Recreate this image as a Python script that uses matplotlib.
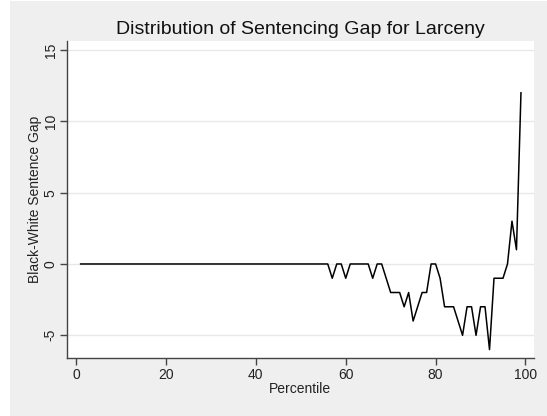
import numpy as np
import matplotlib.pyplot as plt
from matplotlib.patches import Rectangle

plt.rcParams['font.family'] = ['Liberation Sans', 'DejaVu Sans']

# percentiles 1..99 and the black-white gap at each
percentile = np.arange(1, 100)
gap = [0] * 56 + [
    -1, 0, 0, -1, 0, 0, 0, 0, 0, -1,      # 57-66
    0, 0, -1, -2, -2, -2, -3, -2, -4, -3,  # 67-76
    -2, -2, 0, 0, -1, -3, -3, -3, -4, -5,  # 77-86
    -3, -3, -5, -3, -3, -6, -1, -1, -1, 0,  # 87-96
    3, 1, 12,                              # 97-99
]
xticks = [0, 20, 40, 60, 80, 100]
yticks = [-5, 0, 5, 10, 15]

fig = plt.figure(figsize=(5.47, 4.16), dpi=100, facecolor='#efefef')
# thin white border on the left and top of the graph region
fig.patches.append(Rectangle((0, 0), 10 / 547, 1, transform=fig.transFigure,
                             facecolor='white', edgecolor='none', zorder=-10))
fig.patches.append(Rectangle((0, 1 - 1 / 416), 1, 1 / 416, transform=fig.transFigure,
                             facecolor='white', edgecolor='none', zorder=-10))

ax = fig.add_axes([66.7 / 547, 1 - 357.7 / 416, (534 - 66.7) / 547, (357.7 - 41) / 416])
ax.set_facecolor('white')
ax.plot(percentile, gap, color='black', lw=1.1)

ax.set_xlim(-2.1, 101.9)
ax.set_ylim(-6.57, 15.63)
ax.set_xticks(xticks)
ax.set_yticks(yticks)
ax.set_yticklabels([str(v) for v in yticks], rotation=90, va='center')
ax.grid(axis='y', color='#e8e8e8', lw=1)
ax.set_axisbelow(True)

for side in ['top', 'right']:
    ax.spines[side].set_visible(False)
for side in ['left', 'bottom']:
    ax.spines[side].set_color('#444444')
    ax.spines[side].set_linewidth(1)
ax.tick_params(colors='#444444', labelcolor='#222222', labelsize=10, length=5, width=1)
ax.tick_params(axis='y', pad=1.5)
ax.tick_params(axis='x', pad=2.5)

ax.set_xlabel('Percentile', fontsize=10, labelpad=0, color='#222222')
ax.set_ylabel('Black-White Sentence Gap', fontsize=10, labelpad=1, color='#222222')
ax.set_title('Distribution of Sentencing Gap for Larceny', fontsize=14, pad=5, color='#111111')

fig.savefig('out.png', dpi=100, facecolor=fig.get_facecolor())
